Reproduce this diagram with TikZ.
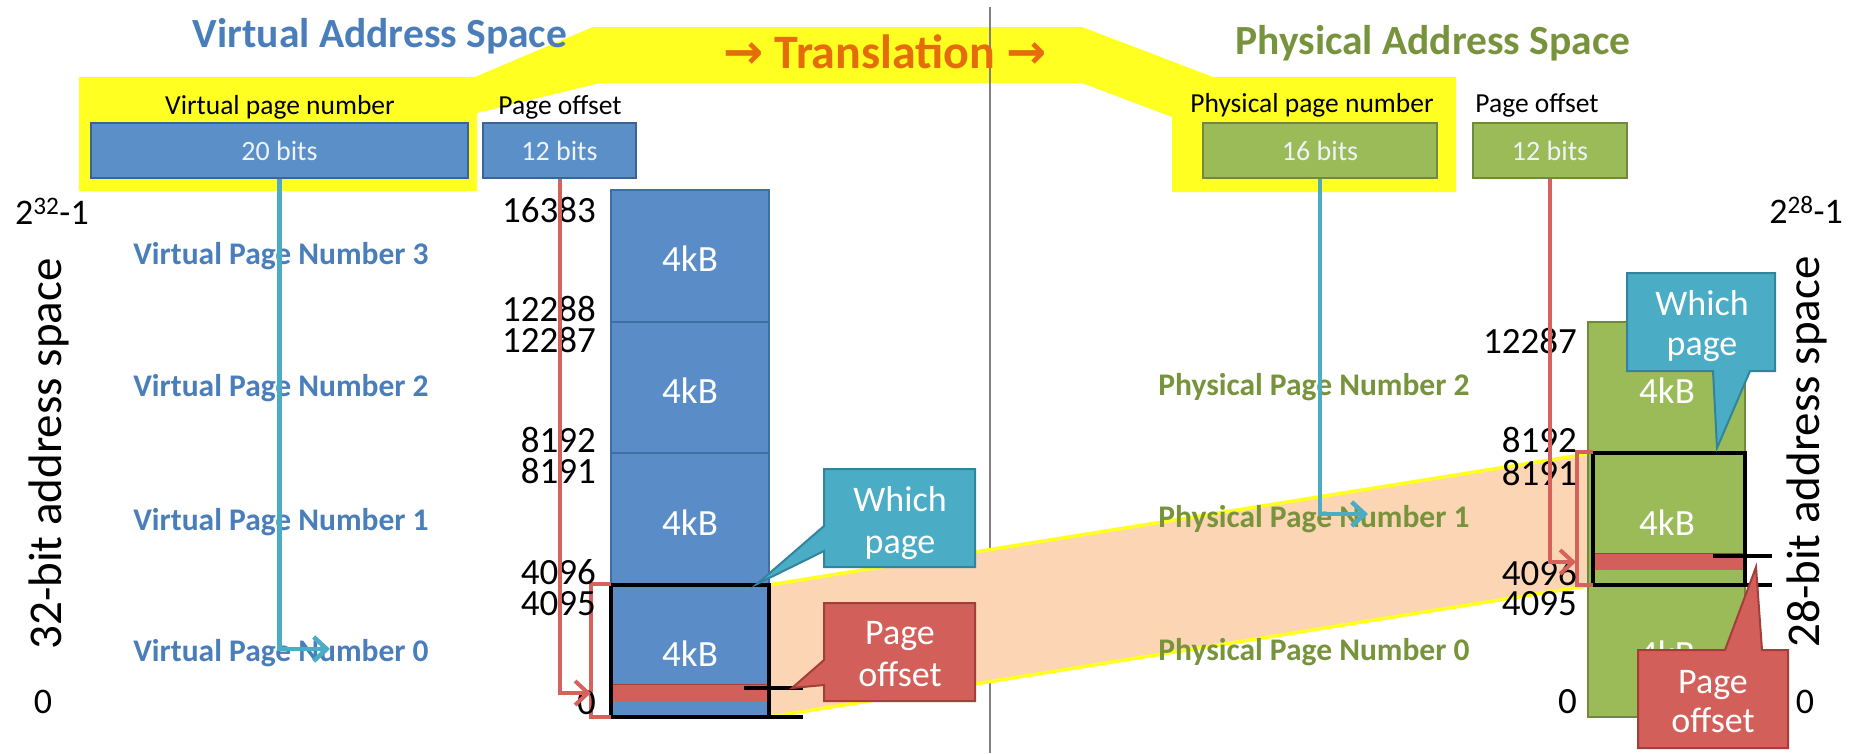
\documentclass[tikz,border=0pt]{standalone}
\usepackage{fontspec}
\setmainfont{Carlito}
\newfontfamily\dejavu{DejaVu Sans}
\usetikzlibrary{arrows.meta}
\newcommand{\myfs}[1]{\fontsize{#1}{#1}\selectfont}
\definecolor{titleblue}{HTML}{4A7EBB}
\definecolor{titlegreen}{HTML}{77933C}
\definecolor{transorange}{HTML}{E46C0A}
\definecolor{boxblue}{HTML}{5B8FC8}
\definecolor{boxblueb}{HTML}{3A6396}
\definecolor{colblue}{HTML}{5A8DC8}
\definecolor{colblueb}{HTML}{3F6EA3}
\definecolor{boxgreen}{HTML}{9BBB59}
\definecolor{boxgreenb}{HTML}{6F8A3E}
\definecolor{hlyellow}{HTML}{FFFF22}
\definecolor{peach}{HTML}{FCD5B4}
\definecolor{cyanc}{HTML}{4BACC6}
\definecolor{cyanb}{HTML}{31849B}
\definecolor{redc}{HTML}{D25F5A}
\definecolor{redb}{HTML}{A33E3A}
\definecolor{redline}{HTML}{D6625E}
\definecolor{boxtext}{HTML}{EEF3FA}
\definecolor{divgray}{HTML}{7F7F7F}
\begin{document}
\begin{tikzpicture}[x=1pt,y=-1pt,
  txt/.style={inner sep=0pt,anchor=base},
  title/.style={txt,font=\bfseries\myfs{41.5}},
  hdr/.style={txt,font=\myfs{27.5}},
  bitbox/.style={draw=#1,line width=2.5pt,minimum height=55pt,inner sep=0pt,text=boxtext,font=\myfs{28}},
  num/.style={inner sep=0pt,anchor=base east,font=\myfs{37}},
  pglbl/.style={txt,font=\bfseries\myfs{31.5}},
  kb/.style={txt,font=\myfs{37},text=white},
  co/.style={txt,font=\myfs{36},text=white},
  side/.style={inner sep=0pt,anchor=base,rotate=90,font=\myfs{47}},
  page/.style={fill=colblue,draw=colblueb,line width=2pt},
  blk/.style={draw=black,line width=3.5pt},
  cyanarrow/.style={draw=cyanc,line width=4.5pt,-{Straight Barb[length=13pt,width=24pt]}},
  redarrow/.style={draw=redline,line width=4pt,-{Straight Barb[length=13pt,width=24pt]}},
  bracket/.style={draw=redline,line width=3.5pt},
]
\path[use as bounding box,fill=white] (0,0) rectangle (1857,753);

% yellow highlight
\fill[hlyellow] (79,77) -- (475,77) -- (593,27) -- (1082,27) -- (1213,77) -- (1456,77) -- (1456,192) -- (1172,192) -- (1172,117) -- (1082,83) -- (600,83) -- (477,113) -- (477,191) -- (79,191) -- cycle;

% divider
\draw[divgray,line width=1.5pt] (990,7) -- (990,753);

% titles
\node[title,text=titleblue] (vtitle) at (380,47) {Virtual Address Space};
\node[title,text=titlegreen] (ptitle) at (1433,54) {Physical Address Space};
\node[txt,font=\bfseries\myfs{48},text=transorange] (trans) at (885,68) {{\dejavu\bfseries →} Translation {\dejavu\bfseries →}};

% header labels
\node[hdr] (lvpn) at (280,114) {Virtual page number};
\node[hdr] (lvoff) at (560,114) {Page offset};
\node[hdr] (lppn) at (1312,112) {Physical page number};
\node[hdr] (lpoff) at (1537,112) {Page offset};

% bit boxes
\node[bitbox=boxblueb,fill=boxblue,minimum width=377pt] (b20) at (279.5,150.5) {20 bits};
\node[bitbox=boxblueb,fill=boxblue,minimum width=153pt] (b12v) at (559.5,150.5) {12 bits};
\node[bitbox=boxgreenb,fill=boxgreen,minimum width=234pt] (b16) at (1320,150.5) {16 bits};
\node[bitbox=boxgreenb,fill=boxgreen,minimum width=154pt] (b12p) at (1550,150.5) {12 bits};

% translation band
\fill[peach] (769,585) -- (1593,453) -- (1593,585) -- (769,717) -- cycle;
\draw[hlyellow,line width=3.5pt] (769,585) -- (1593,453);
\draw[hlyellow,line width=3.5pt] (769,717) -- (1593,585);

% virtual column
\draw[page] (611,190) rectangle (769,322);
\draw[page] (611,322) rectangle (769,453);
\draw[page] (611,453) rectangle (769,585);
\draw[page] (611,585) rectangle (769,717);
\node[kb] (vk3) at (690,271) {4kB};
\node[kb] (vk2) at (690,403) {4kB};
\node[kb] (vk1) at (690,535) {4kB};
\node[kb] (vk0) at (690,666) {4kB};
\fill[redc] (611,684) rectangle (769,701);
\draw[redb,line width=1pt] (611,684) -- (769,684);
\draw[blk] (611,585) rectangle (769,717);
\draw[blk] (769,717) -- (803,717);
\draw[blk] (744,688) -- (803,688);

% physical column
\draw[fill=boxgreen,draw=boxgreenb,line width=2pt] (1588,322) rectangle (1745,717);
\node[kb] (pk2) at (1667,403) {4kB};
\node[kb] (pk1) at (1667,535) {4kB};
\node[kb] (pk0) at (1667,666) {4kB};
\fill[redc] (1593,553) rectangle (1745,570);
\draw[redb,line width=1pt] (1593,553) -- (1745,553);
\draw[blk] (1593,453) rectangle (1745,585);
\draw[blk] (1745,585) -- (1772,585);
\draw[blk] (1713,556) -- (1772,556);

% brackets
\draw[bracket] (611,584) -- (591,584) -- (591,717) -- (611,717);
\draw[bracket] (1593,452) -- (1577,452) -- (1577,585) -- (1593,585);

% side labels
\node[inner sep=0pt,anchor=base west,font=\myfs{36}] (vtop) at (15,224) {2\textsuperscript{32}-1};
\node[inner sep=0pt,anchor=base,font=\myfs{36}] (vzero) at (43,713) {0};
\node[side] (vside) at (61,454) {32-bit address space};
\node[inner sep=0pt,anchor=base east,font=\myfs{36}] (ptop) at (1843,223) {2\textsuperscript{28}-1};
\node[inner sep=0pt,anchor=base,font=\myfs{36}] (pzero) at (1805,713) {0};
\node[side] (pside) at (1819,452) {28-bit address space};

% page number labels
\node[pglbl,text=titleblue] (vpn3) at (281,264) {Virtual Page Number 3};
\node[pglbl,text=titleblue] (vpn2) at (281,396) {Virtual Page Number 2};
\node[pglbl,text=titleblue] (vpn1) at (281,530) {Virtual Page Number 1};
\node[pglbl,text=titleblue] (vpn0) at (281,661) {Virtual Page Number 0};
\node[pglbl,text=titlegreen] (ppn2) at (1314,395) {Physical Page Number 2};
\node[pglbl,text=titlegreen] (ppn1) at (1314,527) {Physical Page Number 1};
\node[pglbl,text=titlegreen] (ppn0) at (1314,660) {Physical Page Number 0};

% address numbers
\node[num] (n16383) at (596,222) {16383};
\node[num] (n12288) at (596,321) {12288};
\node[num] (n12287) at (596,352) {12287};
\node[num] (n8192) at (596,452) {8192};
\node[num] (n8191) at (596,483) {8191};
\node[num] (n4096) at (596,584) {4096};
\node[num] (n4095) at (596,615) {4095};
\node[num] (n0) at (596,714) {0};
\node[num] (m12287) at (1577,353) {12287};
\node[num] (m8192) at (1577,452) {8192};
\node[num] (m8191) at (1577,485) {8191};
\node[num] (m4096) at (1577,585) {4096};
\node[num] (m4095) at (1577,615) {4095};
\node[num] (m0) at (1577,713) {0};

% connectors
\coordinate (tv1) at (330,649);
\coordinate (tv2) at (591,693);
\coordinate (tp1) at (1368,514);
\coordinate (tp2) at (1576,562);
\draw[cyanarrow] (b20.south) |- (tv1);
\draw[redarrow] (b12v.south) |- (tv2);
\draw[cyanarrow] (b16.south) |- (tp1);
\draw[redarrow] (b12p.south) |- (tp2);

% callouts
\draw[fill=cyanc,draw=cyanb,line width=2pt,line join=miter] (824,469) -- (975,469) -- (975,567) -- (824,567) -- (824,551) -- (757,584) -- (824,526) -- cycle;
\node[co] (wp1a) at (900,511) {Which};
\node[co] (wp1b) at (900,553) {page};
\draw[fill=redc,draw=redb,line width=2pt,line join=miter] (824,603) -- (975,603) -- (975,701) -- (824,701) -- (824,685) -- (792,688) -- (824,660) -- cycle;
\node[co] (po1a) at (900,644) {Page};
\node[co] (po1b) at (900,686) {offset};
\draw[fill=cyanc,draw=cyanb,line width=2pt,line join=miter] (1627,273) -- (1775,273) -- (1775,371) -- (1750,371) -- (1717,448) -- (1713,371) -- (1627,371) -- cycle;
\node[co] (wp2a) at (1702,315) {Which};
\node[co] (wp2b) at (1702,355) {page};
\draw[fill=redc,draw=redb,line width=2pt,line join=miter] (1638,650) -- (1725,650) -- (1756,567) -- (1762,650) -- (1788,650) -- (1788,748) -- (1638,748) -- cycle;
\node[co] (po2a) at (1713,693) {Page};
\node[co] (po2b) at (1713,732) {offset};
\end{tikzpicture}
\end{document}
